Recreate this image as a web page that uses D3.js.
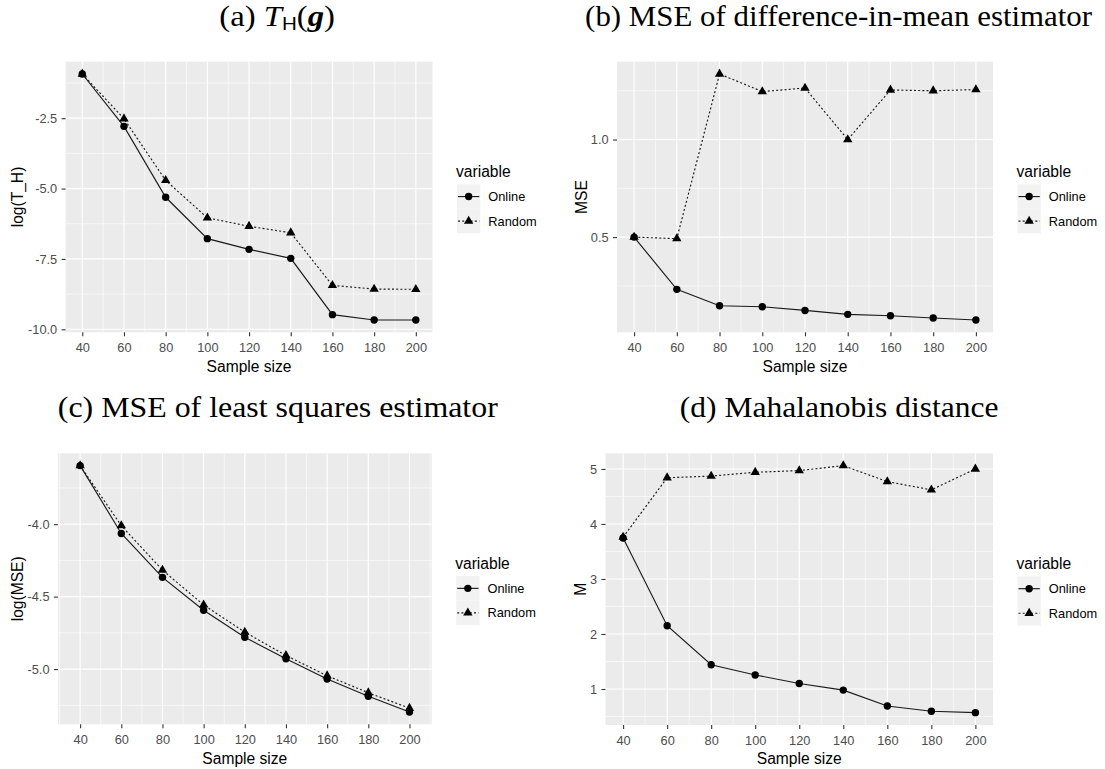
<!DOCTYPE html>
<html><head><meta charset="utf-8">
<script src="https://cdn.jsdelivr.net/npm/d3@7"></script>
<style>body{margin:0;background:#fff} svg{display:block}</style>
</head><body><svg id="c" width="1105" height="769"></svg>
<script>
// ---------- data ----------
const sampleSizes = [40, 60, 80, 100, 120, 140, 160, 180, 200];
const seriesNames = ["Online", "Random"];
const legendTitle = "variable";
const xTitle = "Sample size";

// (a) log(T_H)
const thOnline = [-0.93, -2.79, -5.31, -6.78, -7.16, -7.48, -9.48, -9.67, -9.67];
const thRandom = [-0.93, -2.52, -4.71, -6.04, -6.34, -6.57, -8.44, -8.57, -8.58];
const thTicks = [-10.0, -7.5, -5.0, -2.5];

// (b) MSE of difference-in-mean estimator
const dimOnline = [0.50, 0.232, 0.148, 0.143, 0.124, 0.104, 0.097, 0.085, 0.075];
const dimRandom = [0.50, 0.492, 1.336, 1.246, 1.264, 1.00, 1.254, 1.25, 1.256];
const dimTicks = [0.5, 1.0];

// (c) log(MSE) of least squares estimator
const lsOnline = [-3.596, -4.064, -4.367, -4.594, -4.78, -4.929, -5.069, -5.188, -5.296];
const lsRandom = [-3.596, -4.01, -4.317, -4.557, -4.745, -4.906, -5.046, -5.163, -5.27];
const lsTicks = [-5.0, -4.5, -4.0];

// (d) Mahalanobis distance
const mahOnline = [3.745, 2.15, 1.44, 1.255, 1.10, 0.98, 0.69, 0.595, 0.57];
const mahRandom = [3.76, 4.84, 4.87, 4.94, 4.97, 5.06, 4.77, 4.62, 5.00];
const mahTicks = [1, 2, 3, 4, 5];

// ---------- drawing ----------
const svg = d3.select("#c");
const SANS = "'Liberation Sans', Arial, sans-serif";
const SERIF = "'Liberation Serif', 'Times New Roman', serif";

function expand(vals, f) {
  const [lo, hi] = d3.extent(vals);
  const pad = (hi - lo) * f;
  return [lo - pad, hi + pad];
}

function panel(cfg) {
  const b = cfg.box;
  const x = d3.scaleLinear().domain(cfg.xDomain).range([b.left, b.right]);
  const yDom = expand(cfg.online.concat(cfg.random), 0.05);
  const y = d3.scaleLinear().domain(yDom).range([b.bottom, b.top]);
  const g = svg.append("g");

  g.append("rect").attr("x", b.left).attr("y", b.top)
    .attr("width", b.right - b.left).attr("height", b.bottom - b.top)
    .attr("fill", "#EBEBEB");

  // minor grid
  const ystep = cfg.yTicks[1] - cfg.yTicks[0];
  const yMinor = [];
  for (let i = -1; i < cfg.yTicks.length; i++) yMinor.push(cfg.yTicks[0] + (i + 0.5) * ystep);
  const xMinor = [];
  for (let v = 30; v <= 210; v += 20) xMinor.push(v);
  g.selectAll(null).data(yMinor.filter(v => v > yDom[0] && v < yDom[1])).join("line")
    .attr("x1", b.left).attr("x2", b.right).attr("y1", d => y(d)).attr("y2", d => y(d))
    .attr("stroke", "#fff").attr("stroke-width", 0.6);
  g.selectAll(null).data(xMinor.filter(v => v > cfg.xDomain[0] && v < cfg.xDomain[1])).join("line")
    .attr("y1", b.top).attr("y2", b.bottom).attr("x1", d => x(d)).attr("x2", d => x(d))
    .attr("stroke", "#fff").attr("stroke-width", 0.6);
  // major grid
  g.selectAll(null).data(cfg.yTicks).join("line")
    .attr("x1", b.left).attr("x2", b.right).attr("y1", d => y(d)).attr("y2", d => y(d))
    .attr("stroke", "#fff").attr("stroke-width", 1.15);
  g.selectAll(null).data(sampleSizes).join("line")
    .attr("y1", b.top).attr("y2", b.bottom).attr("x1", d => x(d)).attr("x2", d => x(d))
    .attr("stroke", "#fff").attr("stroke-width", 1.15);

  // axes
  const xa = g.append("g").attr("transform", `translate(0,${b.bottom})`)
    .call(d3.axisBottom(x).tickValues(sampleSizes).tickSize(4).tickPadding(6.5).tickFormat(d3.format("d")));
  const ya = g.append("g").attr("transform", `translate(${b.left},0)`)
    .call(d3.axisLeft(y).tickValues(cfg.yTicks).tickSize(4).tickPadding(4.4).tickFormat(d3.format(cfg.yFmt)));
  [xa, ya].forEach(a => {
    a.select(".domain").remove();
    a.selectAll(".tick line").attr("stroke", "#333").attr("stroke-width", 1.1);
    a.selectAll(".tick text").attr("fill", "#4D4D4D").attr("font-size", 12.8).attr("font-family", SANS);
  });
  ya.selectAll(".tick text").text(d => d3.format(cfg.yFmt)(d).replace("−", "-"));

  // titles
  g.append("text").attr("x", (b.left + b.right) / 2).attr("y", b.bottom + 39.2)
    .attr("text-anchor", "middle").attr("font-family", SANS).attr("font-size", 15.6)
    .attr("fill", "#000").text(xTitle);
  const cy = (b.top + b.bottom) / 2;
  g.append("text").attr("transform", `translate(${cfg.yTitleX},${cy}) rotate(-90)`)
    .attr("dy", "0.35em").attr("text-anchor", "middle").attr("font-family", SANS)
    .attr("font-size", 15.6).attr("fill", "#000").text(cfg.yTitle);

  // data
  const line = d3.line().x((d, i) => x(sampleSizes[i])).y(d => y(d));
  g.append("path").attr("d", line(cfg.online)).attr("fill", "none")
    .attr("stroke", "#1a1a1a").attr("stroke-width", 1.15);
  g.append("path").attr("d", line(cfg.random)).attr("fill", "none")
    .attr("stroke", "#1a1a1a").attr("stroke-width", 1.15).attr("stroke-dasharray", "2,2.2");
  g.selectAll(null).data(cfg.online).join("circle")
    .attr("cx", (d, i) => x(sampleSizes[i])).attr("cy", d => y(d)).attr("r", 3.7).attr("fill", "#000");
  const tri = d3.symbol().type(d3.symbolTriangle).size(38);
  g.selectAll(null).data(cfg.random).join("path")
    .attr("transform", (d, i) => `translate(${x(sampleSizes[i])},${y(d)})`)
    .attr("d", tri()).attr("fill", "#000");

  // legend
  const lx = b.right + 24.5;
  g.append("text").attr("x", lx - 1).attr("y", cy - 19.7).attr("font-family", SANS)
    .attr("font-size", 15.6).attr("fill", "#000").text(legendTitle);
  seriesNames.forEach((name, k) => {
    const ky = cy - 12.7 + k * 24.5;
    g.append("rect").attr("x", lx).attr("y", ky).attr("width", 23.3).attr("height", 24.5).attr("fill", "#F2F2F2");
    const kc = ky + 12.25;
    const ln = g.append("line").attr("x1", lx + 1).attr("x2", lx + 22.3).attr("y1", kc).attr("y2", kc)
      .attr("stroke", "#1a1a1a").attr("stroke-width", 1.15);
    if (k === 1) {
      ln.attr("stroke-dasharray", "2,2.2");
      g.append("path").attr("transform", `translate(${lx + 11.65},${kc})`).attr("d", tri()).attr("fill", "#000");
    } else {
      g.append("circle").attr("cx", lx + 11.65).attr("cy", kc).attr("r", 3.7).attr("fill", "#000");
    }
    g.append("text").attr("x", lx + 31.3).attr("y", kc + 4.6).attr("font-family", SANS)
      .attr("font-size", 12.8).attr("fill", "#000").text(name);
  });
}

panel({ box: {left: 65.6, right: 432.5, top: 61.7, bottom: 332.3}, xDomain: [32, 208],
  online: thOnline, random: thRandom, yTicks: thTicks, yFmt: ".1f", yTitle: "log(T_H)", yTitleX: 18 });
panel({ box: {left: 617, right: 993, top: 61.7, bottom: 332.3}, xDomain: [32, 208],
  online: dimOnline, random: dimRandom, yTicks: dimTicks, yFmt: ".1f", yTitle: "MSE", yTitleX: 581.7 });
panel({ box: {left: 57.9, right: 431.7, top: 453.3, bottom: 724.3}, xDomain: [29.2, 210.8],
  online: lsOnline, random: lsRandom, yTicks: lsTicks, yFmt: ".1f", yTitle: "log(MSE)", yTitleX: 18 });
panel({ box: {left: 605.5, right: 993, top: 453.3, bottom: 725}, xDomain: [32, 208],
  online: mahOnline, random: mahRandom, yTicks: mahTicks, yFmt: "d", yTitle: "M", yTitleX: 581 });

// ---------- panel titles ----------
const TFS = 28.6;
function title(txt, cx, base, width) {
  svg.append("text").attr("x", cx).attr("y", base).attr("text-anchor", "middle")
    .attr("font-family", SERIF).attr("font-size", TFS).attr("fill", "#000")
    .attr("textLength", width).attr("lengthAdjust", "spacingAndGlyphs").text(txt);
}
// (a) T_H(g)
const ta = svg.append("text").attr("x", 219.3).attr("y", 26).attr("font-family", SERIF)
  .attr("font-size", TFS).attr("fill", "#000");
ta.append("tspan").text("(a) ");
ta.append("tspan").attr("font-style", "italic").text("T");
ta.append("tspan").attr("font-family", SANS).attr("font-size", 18).attr("dy", 4).text("H");
ta.append("tspan").attr("dy", -4).text("(");
ta.append("tspan").attr("font-style", "italic").attr("font-weight", "bold").text("g");
ta.append("tspan").text(")");
ta.attr("textLength", 115.7).attr("lengthAdjust", "spacingAndGlyphs");

title("(b) MSE of difference-in-mean estimator", 838.6, 26, 507);
title("(c) MSE of least squares estimator", 277.8, 417.3, 440);
title("(d) Mahalanobis distance", 839.2, 417.3, 318.7);
</script></body></html>
